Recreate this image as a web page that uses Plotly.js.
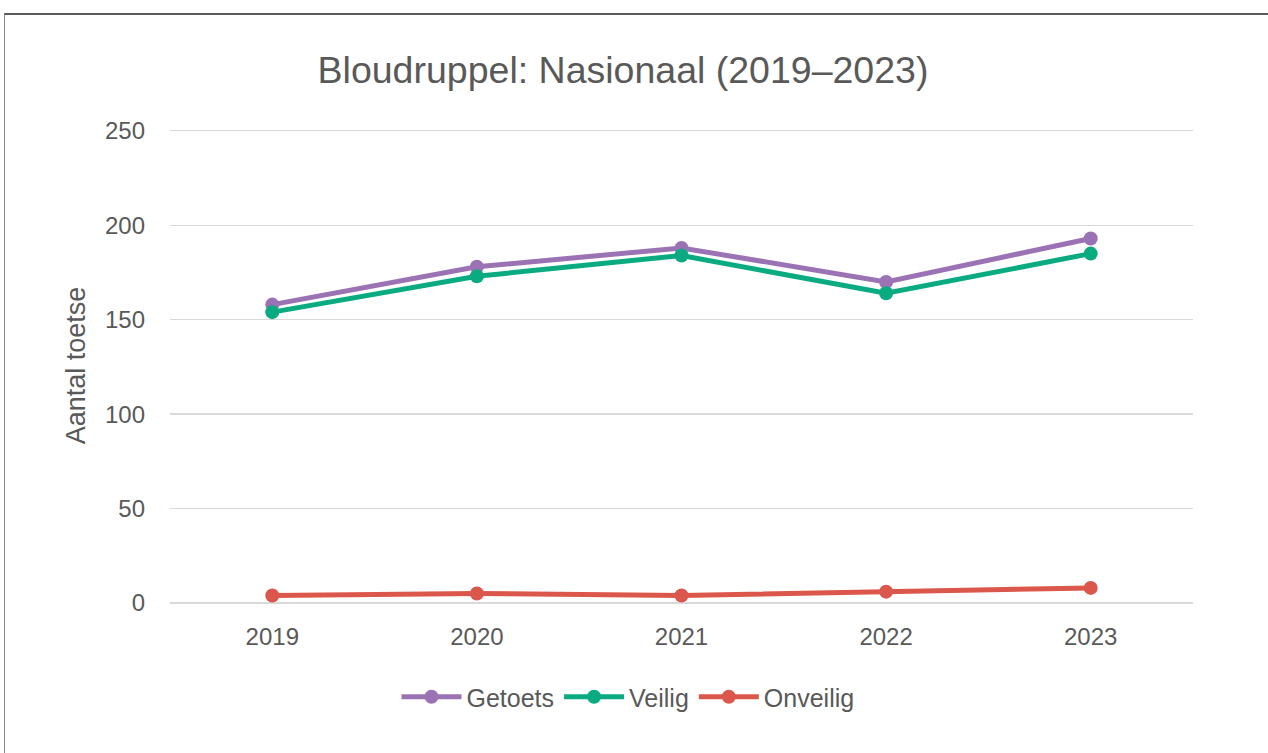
<!DOCTYPE html>
<html>
<head>
<meta charset="utf-8">
<script src="https://cdn.plot.ly/plotly-3.0.1.min.js"></script>
<style>
  html, body { margin: 0; padding: 0; background: #fff; overflow: hidden; }
  #chart { position: absolute; left: 0; top: 0; width: 1268px; height: 753px; }
  #frame { position: absolute; left: 4px; top: 13px; width: 1300px; height: 800px;
           border-top: 2px solid #5a5a5a; border-left: 1px solid #8a8a8a; pointer-events: none; }
</style>
</head>
<body>
<div id="chart"></div>
<div id="frame"></div>
<script>
const years = ["2019", "2020", "2021", "2022", "2023"];
const getoets = [158, 178, 188, 170, 193];
const veilig = [154, 173, 184, 164, 185];
const onveilig = [4, 5, 4, 6, 8];
const seriesNames = ["Getoets", "Veilig", "Onveilig"];
const colors = ["#9b73b5", "#0bab82", "#dc574b"];

const seriesData = [getoets, veilig, onveilig];
const traces = seriesData.map((vals, i) => ({
  type: "scatter",
  mode: "lines+markers",
  name: seriesNames[i],
  x: years,
  y: vals,
  line: { color: colors[i], width: 5 },
  marker: { color: colors[i], size: 14 }
}));

const font = "Liberation Sans, Arial, sans-serif";
const layout = {
  width: 1268,
  height: 753,
  paper_bgcolor: "#fff",
  plot_bgcolor: "#fff",
  margin: { l: 170, r: 75, t: 128, b: 150 },
  font: { family: font, color: "#595959" },
  title: {
    text: "Bloudruppel: Nasionaal (2019–2023)",
    font: { size: 37.5, color: "#595959", family: font },
    x: 623 / 1268, xanchor: "center", xref: "container",
    y: 1 - 70 / 753, yanchor: "middle", yref: "container"
  },
  xaxis: {
    type: "category",
    range: [-0.5, 4.5],
    showgrid: false,
    showline: false,
    zeroline: false,
    ticks: "",
    ticklabelstandoff: 17,
    tickfont: { size: 24, color: "#595959", family: font }
  },
  yaxis: {
    range: [0, 251.5],
    tickvals: [0, 50, 100, 150, 200, 250],
    gridcolor: "#d9d9d9",
    gridwidth: 1.3,
    zeroline: true,
    zerolinecolor: "#d9d9d9",
    zerolinewidth: 1.3,
    showline: false,
    ticks: "",
    ticklabelstandoff: 24,
    tickfont: { size: 24, color: "#595959", family: font },
    title: { text: "Aantal toetse", font: { size: 27, color: "#595959", family: font }, standoff: 11 }
  },
  showlegend: true,
  legend: {
    orientation: "h",
    x: (628 - 170) / 1023,
    xanchor: "center",
    y: -94 / 475,
    yanchor: "middle",
    font: { size: 25, color: "#595959", family: font },
    itemwidth: 60,
    traceorder: "normal"
  }
};

Plotly.newPlot("chart", traces, layout, { displayModeBar: false, staticPlot: true });
</script>
</body>
</html>
